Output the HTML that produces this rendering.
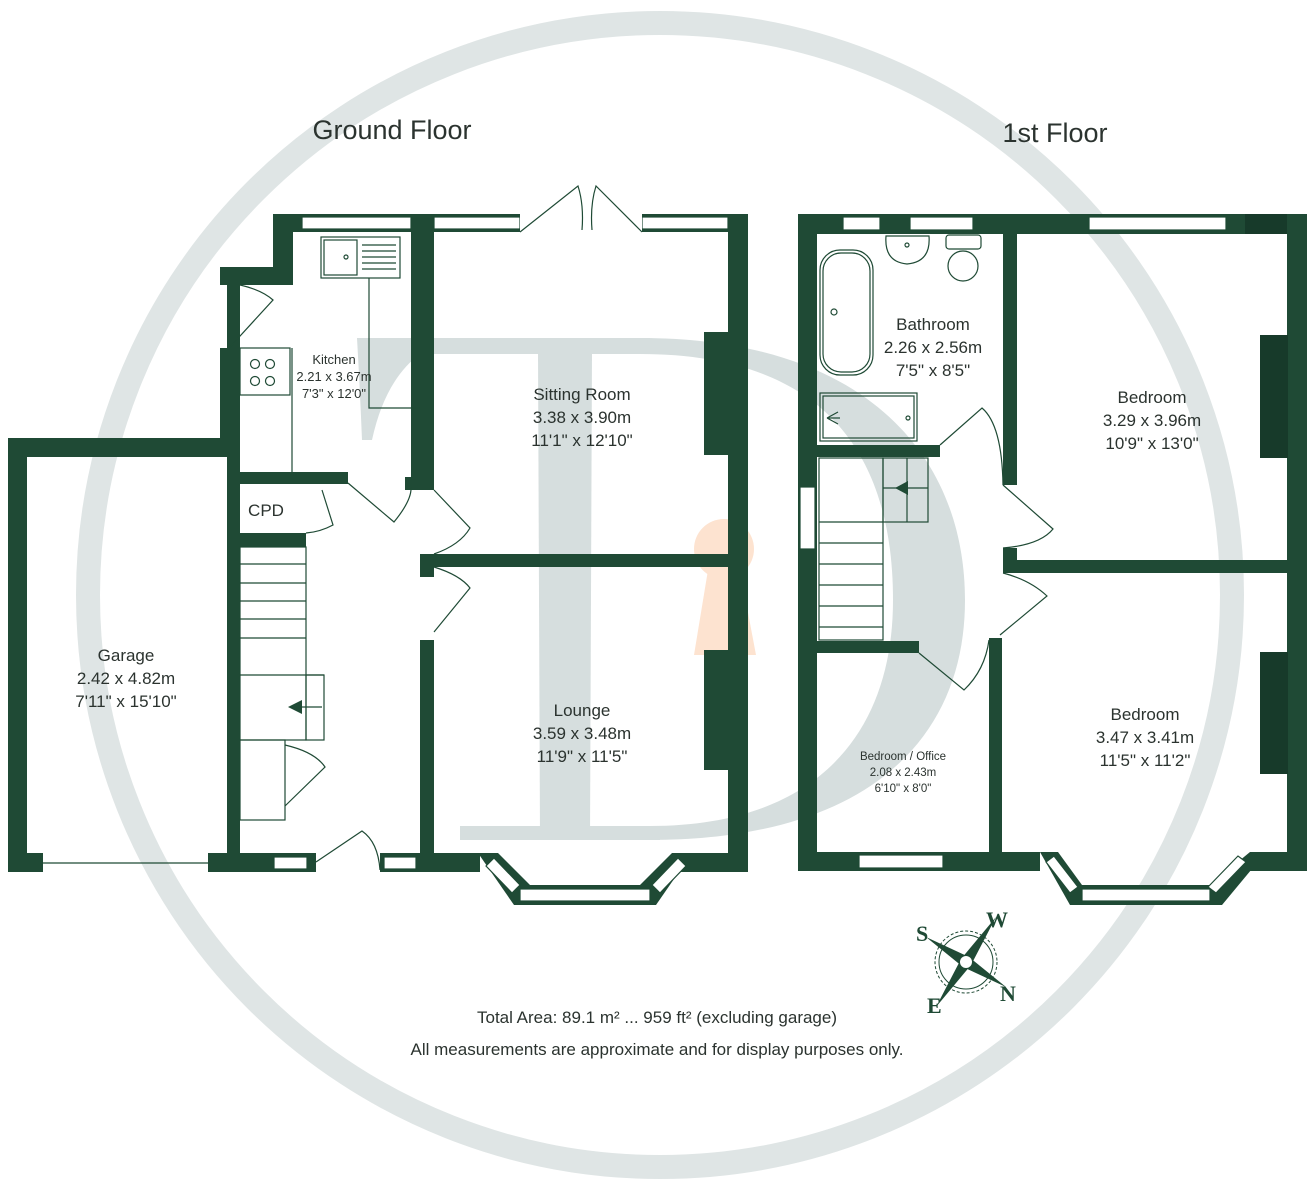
<!DOCTYPE html>
<html><head><meta charset="utf-8"><style>
html,body{margin:0;padding:0;background:#fff;}
svg{display:block;}
text{font-family:"Liberation Sans",sans-serif;fill:#2b332f;}
text.cp{font-family:"Liberation Serif",serif;font-weight:bold;fill:#1f4a35;font-size:22px;}
</style></head><body>
<svg width="1316" height="1184" viewBox="0 0 1316 1184" xmlns="http://www.w3.org/2000/svg">
<circle cx="660" cy="595" r="572" fill="none" stroke="#dfe5e5" stroke-width="24"/>
<g fill="#d6dede">
<path d="M357 338 L650 338 L650 354 L420 354 Q385 380 372 440 L362 440 Q360 390 357 338 Z"/>
<path d="M538 350 L592 350 L590 840 L540 840 Z"/>
<rect x="460" y="826" width="200" height="14"/>
<path d="M640 338 C870 338 965 460 965 600 C965 745 860 840 650 840 L650 826 C820 826 893 730 893 600 C893 460 830 354 640 354 Z"/>
</g>
<g fill="#fde3d0">
<circle cx="724" cy="549" r="30"/>
<path d="M708 570 L740 570 L756 655 L694 655 Z"/>
</g>

<g fill="#1f4a35">
<rect x="8" y="438" width="231" height="19"/>
<rect x="8" y="438" width="19" height="434"/>
<rect x="8" y="853" width="35" height="19"/>
<rect x="227" y="267" width="13" height="605"/>
<rect x="208" y="853" width="108" height="19"/>
<rect x="220" y="267" width="73" height="18"/>
<rect x="273" y="214" width="20" height="71"/>
<rect x="273" y="214" width="475" height="18"/>
<rect x="220" y="348" width="20" height="90"/>
<rect x="411" y="214" width="23" height="276"/>
<rect x="405" y="477" width="29" height="13"/>
<rect x="239" y="472" width="109" height="12"/>
<rect x="239" y="533" width="67" height="14"/>
<rect x="728" y="214" width="20" height="658"/>
<rect x="704" y="332" width="26" height="123"/>
<rect x="704" y="650" width="26" height="120"/>
<rect x="420" y="554" width="328" height="13"/>
<rect x="420" y="554" width="14" height="23"/>
<rect x="420" y="640" width="14" height="232"/>
<rect x="380" y="853" width="100" height="19"/>
<rect x="672" y="853" width="76" height="19"/>
<polygon points="478,853 498,853 530,885 530,905 514,905"/>
<polygon points="672,853 692,853 656,905 640,905 640,885"/>
<rect x="514" y="885" width="142" height="20"/>
</g>
<g fill="#fff" stroke="#1f4a35" stroke-width="1.2">
<rect x="302" y="217" width="109" height="12"/>
<rect x="434" y="217" width="86" height="12"/>
<rect x="642" y="217" width="86" height="12"/>
<rect x="274" y="857" width="33" height="12"/>
<rect x="384" y="857" width="32" height="12"/>
<rect x="520" y="889" width="130" height="12"/>
<polygon points="486,866 494,858 520,885 512,893"/>
<polygon points="660,893 652,885 678,858 686,866"/>
</g>
<rect x="520" y="214" width="122" height="18" fill="#fff"/>
<g fill="none" stroke="#1f4a35" stroke-width="1.2">
<line x1="43" y1="863" x2="208" y2="863"/>
<rect x="321" y="237" width="79" height="41"/>
<rect x="324" y="240" width="33" height="35"/>
<line x1="362" y1="245" x2="396" y2="245"/><line x1="362" y1="251" x2="396" y2="251"/><line x1="362" y1="257" x2="396" y2="257"/><line x1="362" y1="263" x2="396" y2="263"/><line x1="362" y1="269" x2="396" y2="269"/>
<circle cx="346" cy="257" r="2"/>
<polyline points="369,278 369,408 420,408"/>
<rect x="240" y="348" width="50" height="47"/>
<circle cx="255" cy="364" r="4.5"/><circle cx="270" cy="364" r="4.5"/><circle cx="255" cy="381" r="4.5"/><circle cx="270" cy="381" r="4.5"/>
<line x1="292" y1="348" x2="292" y2="472"/>
<path d="M240 285 Q262 290 273 300 L230 347"/>
<path d="M348 483 L394 522 Q412 500 411 487"/>
<path d="M434 490 L470 528 Q460 545 434 554"/>
<path d="M434 567 Q460 575 470 588 L434 632"/>
<path d="M322 490 L333 525 Q320 532 306 533"/>
<path d="M520 232 L578 186 Q584 205 582 230"/><path d="M642 232 L596 186 Q590 205 592 230"/>
<rect x="240" y="547" width="66" height="193"/>
<line x1="240" y1="564" x2="306" y2="564"/><line x1="240" y1="583" x2="306" y2="583"/><line x1="240" y1="601" x2="306" y2="601"/><line x1="240" y1="619" x2="306" y2="619"/><line x1="240" y1="638" x2="306" y2="638"/><line x1="240" y1="675" x2="324" y2="675"/>
<rect x="306" y="675" width="18" height="65"/>
<line x1="300" y1="707" x2="322" y2="707"/>
<rect x="240" y="740" width="45" height="80"/>
<path d="M285 745 Q315 752 325 767 L285 806"/>
<path d="M316 862 L362 831 Q378 842 380 870"/>
</g>
<polygon points="288,707 302,700 302,714" fill="#1f4a35"/>

<g fill="#1f4a35">
<rect x="798" y="214" width="509" height="20"/>
<rect x="1245" y="214" width="62" height="20" fill="#173a2a"/>
<rect x="798" y="214" width="19" height="657"/>
<rect x="1287" y="214" width="20" height="657"/>
<rect x="1260" y="335" width="28" height="123" fill="#173a2a"/>
<rect x="1260" y="652" width="28" height="122" fill="#173a2a"/>
<rect x="1003" y="234" width="14" height="251"/>
<rect x="817" y="445" width="123" height="12"/>
<rect x="1003" y="548" width="14" height="25"/>
<rect x="1003" y="560" width="304" height="13"/>
<rect x="817" y="641" width="102" height="12"/>
<rect x="989" y="638" width="13" height="233"/>
<rect x="798" y="852" width="242" height="19"/>
<rect x="1250" y="852" width="57" height="19"/>
<polygon points="1040,852 1058,852 1082,885 1082,905 1070,905"/>
<polygon points="1250,852 1266,852 1222,905 1210,905 1210,885"/>
<rect x="1075" y="885" width="140" height="20"/>
</g>
<g fill="#fff" stroke="#1f4a35" stroke-width="1.2">
<rect x="843" y="217" width="37" height="13"/>
<rect x="910" y="217" width="63" height="13"/>
<rect x="1089" y="217" width="137" height="13"/>
<rect x="800" y="487" width="15" height="62"/>
<rect x="859" y="855" width="84" height="13"/>
<rect x="1082" y="889" width="128" height="12"/>
<polygon points="1046,862 1054,856 1078,887 1070,893"/>
<polygon points="1216,893 1208,887 1238,856 1246,862"/>
</g>
<g fill="none" stroke="#1f4a35" stroke-width="1.2">
<rect x="820" y="250" width="53" height="125" rx="20"/>
<rect x="823" y="253" width="47" height="119" rx="18"/>
<circle cx="834" cy="312" r="3"/>
<rect x="820" y="393" width="97" height="48"/><rect x="823" y="396" width="91" height="42"/>
<path d="M827 418 L838 412 M827 418 L838 424 M827 418 L840 418"/><circle cx="908" cy="418" r="2"/>
<path d="M886 236 L929 236 Q931 262 907 264 Q884 262 886 236 Z"/><circle cx="907" cy="245" r="2"/>
<rect x="946" y="235" width="35" height="14" rx="3"/>
<circle cx="963" cy="266" r="15"/>
<rect x="819" y="458" width="64" height="182"/>
<line x1="819" y1="522" x2="883" y2="522"/><line x1="819" y1="543" x2="883" y2="543"/><line x1="819" y1="564" x2="883" y2="564"/><line x1="819" y1="585" x2="883" y2="585"/><line x1="819" y1="606" x2="883" y2="606"/><line x1="819" y1="627" x2="883" y2="627"/>
<rect x="883" y="458" width="45" height="64"/>
<line x1="907" y1="458" x2="907" y2="522"/><line x1="883" y1="488" x2="928" y2="488"/>
<path d="M940 445 L982 408 Q1002 425 1003 485"/>
<path d="M1003 485 L1053 529 Q1040 545 1003 548"/>
<path d="M1003 573 Q1030 580 1047 596 L1000 635"/>
<path d="M919 653 L964 690 Q985 670 989 640"/>
</g>
<polygon points="895,488 908,481 908,495" fill="#1f4a35"/>

<text x="392" y="139" font-size="27" text-anchor="middle">Ground Floor</text>
<text x="1055" y="142" font-size="27" text-anchor="middle">1st Floor</text>
<g font-size="17" text-anchor="middle">
<text x="126" y="661">Garage</text><text x="126" y="684">2.42 x 4.82m</text><text x="126" y="707">7'11" x 15'10"</text>
<text x="582" y="400">Sitting Room</text><text x="582" y="423">3.38 x 3.90m</text><text x="582" y="446">11'1" x 12'10"</text>
<text x="582" y="716">Lounge</text><text x="582" y="739">3.59 x 3.48m</text><text x="582" y="762">11'9" x 11'5"</text>
<text x="933" y="330">Bathroom</text><text x="933" y="353">2.26 x 2.56m</text><text x="933" y="376">7'5" x 8'5"</text>
<text x="1152" y="403">Bedroom</text><text x="1152" y="426">3.29 x 3.96m</text><text x="1152" y="449">10'9" x 13'0"</text>
<text x="1145" y="720">Bedroom</text><text x="1145" y="743">3.47 x 3.41m</text><text x="1145" y="766">11'5" x 11'2"</text>
<text x="266" y="516">CPD</text>
<text x="657" y="1023">Total Area: 89.1 m² ... 959 ft² (excluding garage)</text>
<text x="657" y="1055">All measurements are approximate and for display purposes only.</text>
</g>
<g font-size="13" text-anchor="middle">
<text x="334" y="364">Kitchen</text><text x="334" y="381">2.21 x 3.67m</text><text x="334" y="398">7'3" x 12'0"</text>
</g>
<g font-size="11.5" text-anchor="middle">
<text x="903" y="760">Bedroom / Office</text><text x="903" y="776">2.08 x 2.43m</text><text x="903" y="792">6'10" x 8'0"</text>
</g>
<g transform="translate(966,962)">
<circle r="27" fill="none" stroke="#1f4a35" stroke-width="1"/>
<circle r="31" fill="none" stroke="#1f4a35" stroke-width="1" stroke-dasharray="3,2"/>
<polygon points="-40,-25 -3,5 40,25 3,-5" fill="#1f4a35"/>
<polygon points="30,-45 5,3 -30,45 -5,-3" fill="#1f4a35"/>
<circle r="6" fill="#fff"/>
</g>
<text class="cp" x="916" y="941">S</text>
<text class="cp" x="986" y="927">W</text>
<text class="cp" x="927" y="1013">E</text>
<text class="cp" x="1000" y="1001">N</text>
</svg>
</body></html>
